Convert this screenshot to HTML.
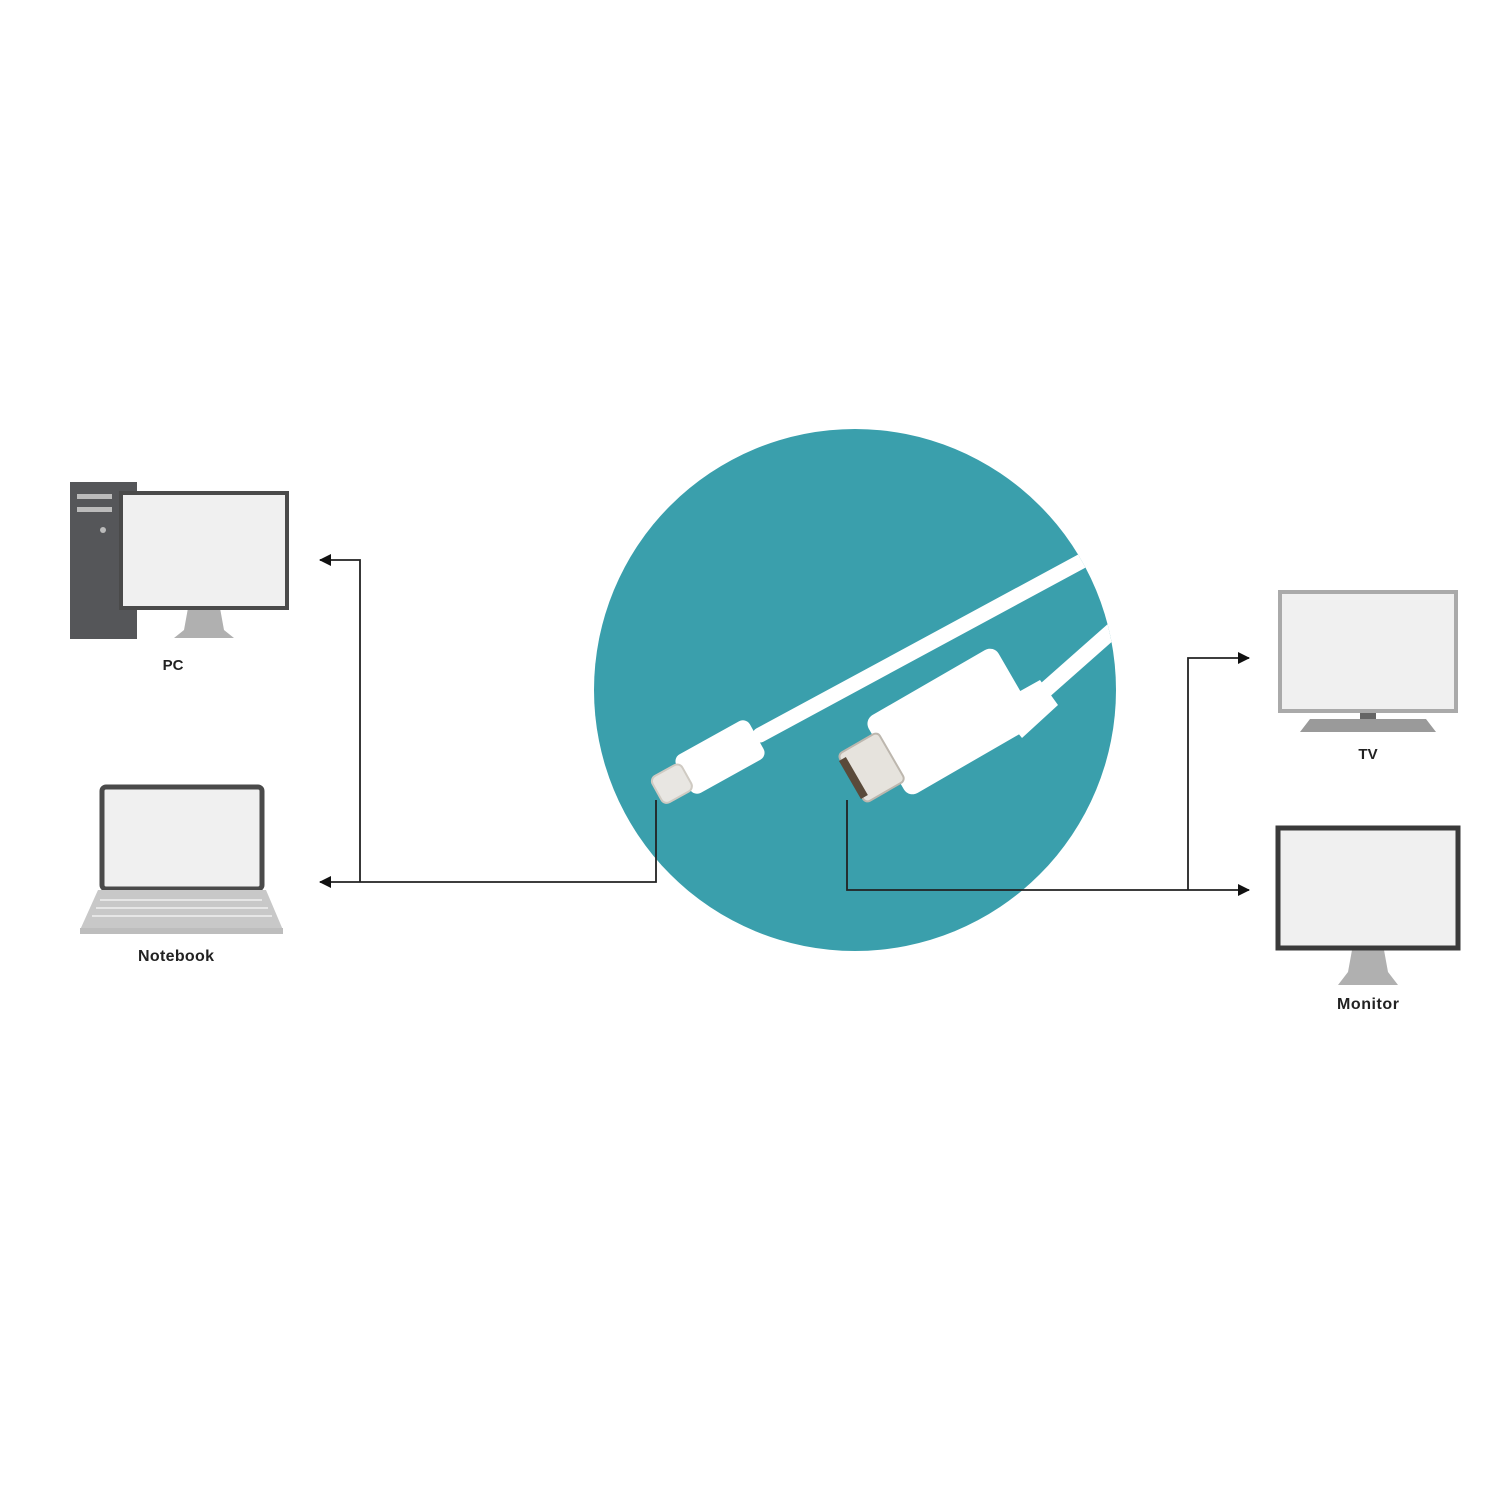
<!DOCTYPE html>
<html><head><meta charset="utf-8"><style>
html,body{margin:0;padding:0;background:#fff;}
svg{display:block}
text{font-family:"Liberation Sans",sans-serif;font-weight:bold;fill:#222;}
</style></head><body>
<svg width="1500" height="1500" viewBox="0 0 1500 1500" xmlns="http://www.w3.org/2000/svg">
<defs>
<marker id="ah" markerWidth="12" markerHeight="12" refX="11" refY="6" orient="auto" markerUnits="userSpaceOnUse"><path d="M0,0 L12,6 L0,12 Z" fill="#111"/></marker>
<clipPath id="cc"><circle cx="855" cy="690" r="261"/></clipPath>
</defs>
<circle cx="855" cy="690" r="261" fill="#3a9fac"/>
<g clip-path="url(#cc)">
  <line x1="760" y1="735" x2="1130" y2="535" stroke="#fff" stroke-width="15" stroke-linecap="round"/>
  <line x1="1000" y1="730" x2="1130" y2="615" stroke="#fff" stroke-width="16"/>
  <polygon points="995,705 1040,680 1058,705 1022,738" fill="#fff"/>
</g>
<!-- mini DP connector -->
<g transform="translate(720,757) rotate(-29)">
  <rect x="-42" y="-22" width="84" height="44" rx="8" fill="#fff"/>
  <rect x="-72" y="-15" width="34" height="30" rx="6" fill="#e8e6e2" stroke="#cfcac2" stroke-width="2"/>
</g>
<!-- HDMI connector -->
<g transform="translate(940,728) rotate(-30)">
  <rect x="-62" y="-45" width="150" height="90" rx="10" fill="#fff"/>
  <rect x="-102" y="-28" width="46" height="56" rx="5" fill="#e6e3dd" stroke="#bdb7ae" stroke-width="2"/>
  <rect x="-104" y="-22" width="8" height="44" fill="#5a4a3a"/>
</g>
<g stroke="#222" stroke-width="1.8" fill="none">
  <polyline points="656,800 656,882 320,882" marker-end="url(#ah)"/>
  <polyline points="360,882 360,560 320,560" marker-end="url(#ah)"/>
  <polyline points="847,800 847,890 1249,890" marker-end="url(#ah)"/>
  <polyline points="1188,890 1188,658 1249,658" marker-end="url(#ah)"/>
</g>
<!-- PC -->
<rect x="70" y="482" width="67" height="157" fill="#555659"/>
<rect x="77" y="494" width="35" height="5" fill="#bbb"/>
<rect x="77" y="507" width="35" height="5" fill="#bbb"/>
<circle cx="103" cy="530" r="3" fill="#bbb"/>
<polygon points="188,608 220,608 224,630 234,638 174,638 184,630" fill="#b0b0b0"/>
<rect x="121" y="493" width="166" height="115" fill="#f0f0f0" stroke="#4a4a4a" stroke-width="4"/>
<text x="173" y="670" font-size="15" text-anchor="middle">PC</text>
<!-- Notebook -->
<rect x="102" y="787" width="160" height="102" rx="4" fill="#f0f0f0" stroke="#4a4a4a" stroke-width="5"/>
<polygon points="98,890 266,890 283,930 80,930" fill="#c8c8c8"/>
<rect x="80" y="928" width="203" height="6" fill="#bdbdbd"/>
<g stroke="#e6e6e6" stroke-width="2">
  <line x1="100" y1="900" x2="262" y2="900"/>
  <line x1="96" y1="908" x2="268" y2="908"/>
  <line x1="92" y1="916" x2="272" y2="916"/>
</g>
<text x="176" y="961" font-size="16" text-anchor="middle" textLength="76">Notebook</text>
<!-- TV -->
<rect x="1280" y="592" width="176" height="119" fill="#f0f0f0" stroke="#aaa" stroke-width="4"/>
<rect x="1360" y="713" width="16" height="8" fill="#666"/>
<polygon points="1310,719 1426,719 1436,732 1300,732" fill="#9a9a9a"/>
<text x="1368" y="759" font-size="15" text-anchor="middle">TV</text>
<!-- Monitor -->
<polygon points="1352,950 1384,950 1388,972 1398,985 1338,985 1348,972" fill="#b0b0b0"/>
<rect x="1278" y="828" width="180" height="120" fill="#f0f0f0" stroke="#3a3a3a" stroke-width="5"/>
<text x="1368" y="1009" font-size="16" text-anchor="middle" textLength="62">Monitor</text>
</svg>
</body></html>
